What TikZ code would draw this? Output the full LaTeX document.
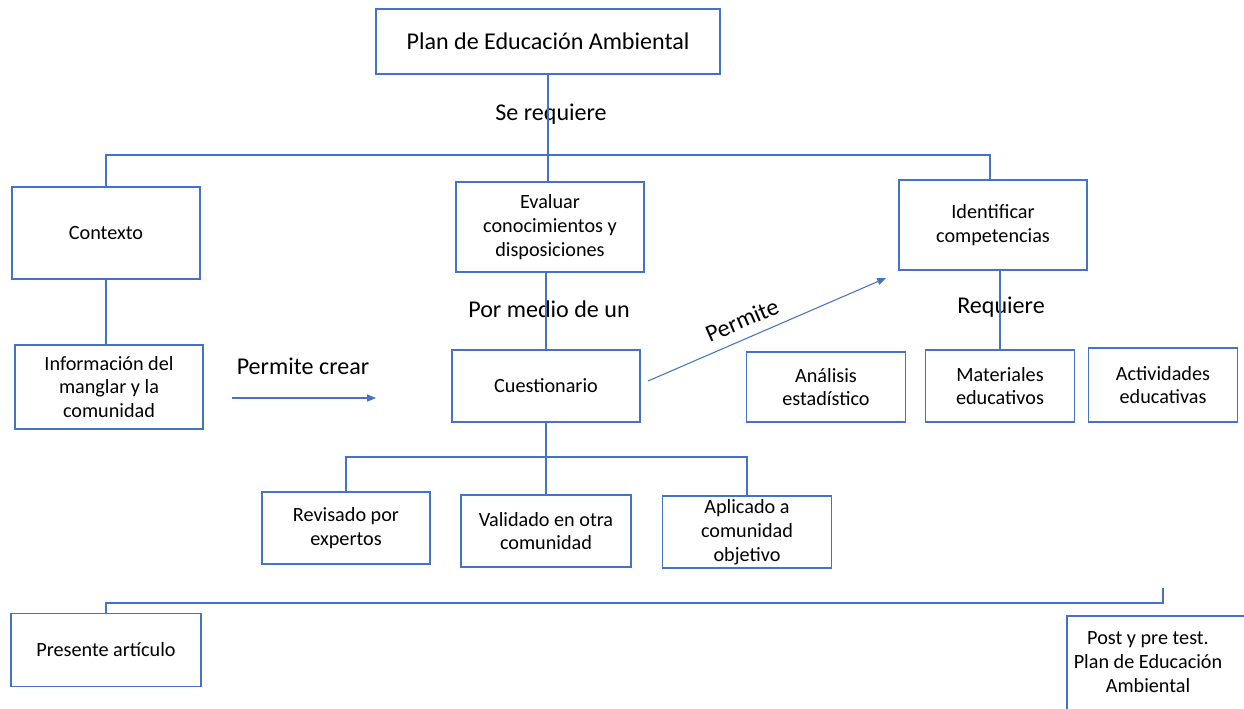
\documentclass[tikz,border=0pt]{standalone}
\usepackage{fontspec}
\setmainfont{Carlito}
\usetikzlibrary{arrows.meta}
\definecolor{officeblue}{HTML}{4472C4}
\tikzset{
  box/.style={draw=officeblue, line width=0.8pt, align=center, inner sep=2pt,
    font=\fontsize{11.5}{13.6}\selectfont},
  lbl/.style={font=\fontsize{13.7}{16}\selectfont, inner sep=1pt},
  link/.style={draw=officeblue, line width=0.6pt},
}
\begin{document}
\begin{tikzpicture}[x=0.02cm, y=-0.02cm]
      \useasboundingbox (0,0) rectangle (1244,708);
      \clip (0,0) rectangle (1244,708);
      \draw
        (548,41.5) node[box, minimum width=6.88cm, minimum height=1.3cm, font=\fontsize{13.7}{16}\selectfont] (plan){Plan de Educación Ambiental}
        (106,233) node[box, minimum width=3.76cm, minimum height=1.84cm] (ctx){Contexto}
        (550,227) node[box, minimum width=3.76cm, minimum height=1.8cm] (eval){Evaluar\\conocimientos y\\disposiciones}
        (993,225) node[box, minimum width=3.76cm, minimum height=1.8cm] (ident){Identificar\\competencias}
        (109,387) node[box, minimum width=3.76cm, minimum height=1.68cm] (info){Información del\\manglar y la\\comunidad}
        (546,386) node[box, minimum width=3.76cm, minimum height=1.44cm] (cuest){Cuestionario}
        (826,387) node[box, minimum width=3.18cm, minimum height=1.4cm] (anal){Análisis\\estadístico}
        (1000,386) node[box, minimum width=2.98cm, minimum height=1.44cm] (mat){Materiales\\educativos}
        (1163,385) node[box, minimum width=2.98cm, minimum height=1.48cm] (act){Actividades\\educativas}
        (346,528) node[box, minimum width=3.36cm, minimum height=1.44cm] (rev){Revisado por\\expertos}
        (546,531) node[box, minimum width=3.4cm, minimum height=1.44cm] (val){Validado en otra\\comunidad}
        (747,532) node[box, minimum width=3.38cm, minimum height=1.44cm] (apl){Aplicado a\\comunidad\\objetivo}
        (106,650) node[box, minimum width=3.8cm, minimum height=1.46cm] (pres){Presente artículo}
        (1148,662) node[box, draw=none] (post){Post y pre test.\\Plan de Educación\\Ambiental};
      % labels on the links
      \draw
        (551,114) node[lbl] (sereq){Se requiere}
        (549,309) node[lbl, fill=white] (pormedio){Por medio de un}
        (303,366) node[lbl] (pcrear){Permite crear}
        (742,320) node[lbl, rotate=23.4] (perm){Permite}
        (1001,307) node[lbl] (req){Requiere};
      \coordinate (crear0) at (232,398);
      \coordinate (crear1) at (376,398);
      \coordinate (perm0) at (648,381);
      \coordinate (perm1) at (886,278);
      \coordinate (stub) at (1163,588);
      \begin{scope}[link]
        \draw (plan.south) -- (plan.south |- eval.north);
        \draw (ctx.north) |- (548,155) -| (990,180);
        \draw (ctx.south) -- (ctx.south |- info.north);
        \draw (cuest.north) -- (cuest.north |- eval.south);
        \draw (mat.north) -- (mat.north |- ident.south);
        \draw (cuest.south) -- (val.north);
        \draw (rev.north) |- (546,457) -| (apl.north);
        \draw (stub) |- (pres.north |- 0,603) -- (pres.north);
        \draw (1067,715) |- (1250,616);
        \draw[-{Triangle[length=5pt,width=4pt]}] (crear0) -- (crear1);
        \draw[-{Triangle[length=5pt,width=4pt]}] (perm0) -- (perm1);
      \end{scope}
    \end{tikzpicture}
\end{document}
